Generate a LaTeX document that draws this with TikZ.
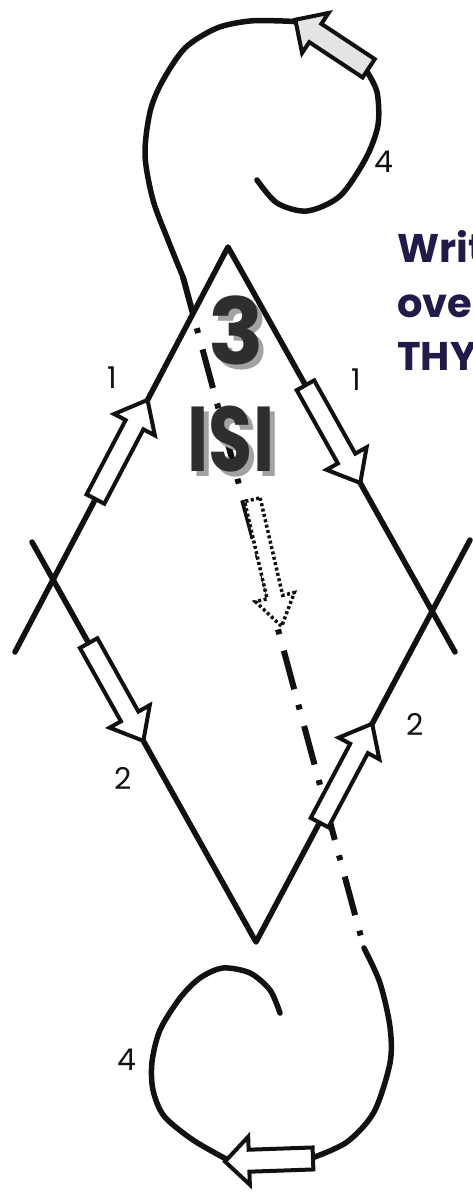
\documentclass[tikz,border=0pt]{standalone}
\usepackage{fontspec}
\newfontfamily\geo{Poppins}
\usetikzlibrary{calc}
\definecolor{inkblack}{HTML}{111111}
\definecolor{textnavy}{HTML}{221A48}
\definecolor{glyphgray}{HTML}{2E2E2E}
\definecolor{shadowgray}{HTML}{A2A2A2}
\definecolor{pale}{HTML}{E4E4E4}
\tikzset{
  sideline/.style={line width=5.5pt, color=inkblack, line cap=round, line join=round},
  axisline/.style={line width=6pt, color=inkblack, dash pattern=on 40pt off 16pt on 5pt off 17pt, dash phase=3pt},
  arrowbox/.style={line width=4pt, color=inkblack, fill=white, line join=miter},
  dotbox/.style={line width=3.5pt, color=inkblack, fill=white, dash pattern=on 3pt off 2.5pt},
  num/.style={font=\geo\fontsize{30}{30}\selectfont, text=inkblack, inner sep=0pt},
  note/.style={font=\geo\bfseries\fontsize{40}{40}\selectfont, text=textnavy, inner sep=0pt, anchor=base west},
  big/.style={font=\geo\bfseries\fontsize{92}{92}\selectfont, text=glyphgray, inner sep=0pt},
  bigshadow/.style={big, text=shadowgray},
  pics/sidearrow/.style={code={
    \draw[arrowbox] (-56,-10) -- (28,-10) -- (28,-23) -- (56,0) -- (28,23) -- (28,10) -- (-56,10) -- cycle;}},
  pics/looparrow/.style={code={
    \draw[arrowbox, #1] (-44,-11) -- (20,-11) -- (20,-24) -- (44,0) -- (20,24) -- (20,11) -- (-44,11) -- cycle;}},
  pics/dotarrow/.style={code={
    \draw[dotbox] (-65,-8) -- (35,-8) -- (35,-20) -- (65,0) -- (35,20) -- (35,8) -- (-65,8) -- cycle;}}
}

\begin{document}
\begin{tikzpicture}[x=1pt,y=-1pt]
\useasboundingbox (0,0) rectangle (472,1192);
\coordinate (T) at (228,247);
\coordinate (B) at (256,942);
\coordinate (TLend) at (15,652);
\coordinate (TRend) at (455,652);
\coordinate (BLend) at (32,542);
\coordinate (BRend) at (470,540);
\coordinate (topend) at (183,277);
\coordinate (botstart) at (364,948);

\draw[axisline] (topend) -- (botstart);
\draw[sideline] (TLend) -- (T) -- (TRend);
\draw[sideline] (BLend) -- (B) -- (BRend);

% loops
\draw[sideline] plot[smooth] coordinates {(183,277) (168,240) (153,200) (145,155) (150,112) (162,82) (185,48) (217,28) (250,21) (283,21) (300,22)};
\draw[sideline] plot[smooth] coordinates {(366,70) (377,92) (378,125) (366,158) (340,196) (307,211) (277,203) (257,180)};
\draw[sideline] plot[smooth] coordinates {(364,948) (380,983) (390,1027) (390,1063) (374,1112) (347,1142) (312,1158)};
\draw[sideline] plot[smooth] coordinates {(228,1160) (193,1140) (164,1116) (153,1090) (152,1062) (160,1030) (180,998) (200,978) (223,968) (250,973) (270,990) (280,1013)};

\pic[rotate=62.3] at ($(TLend)!0.5!(T)$) {sidearrow};
\pic[rotate=-60.7] at ($(T)!0.462!(TRend)$) {sidearrow};
\pic[rotate=-60.75] at ($(BLend)!0.375!(B)$) {sidearrow};
\pic[rotate=62] at ($(B)!0.42!(BRend)$) {sidearrow};
\pic[rotate=146.5] at (332,44) {looparrow={fill=pale}};
\pic[rotate=182] at (269,1160) {looparrow={fill=white}};
\pic[rotate=-77] at (267,563) {dotarrow};

\node[num] (lab1a) at (112,378) {1};
\node[num] (lab1b) at (356,380) {1};
\node[num] (lab2a) at (123,778) {2};
\node[num] (lab2b) at (415,724) {2};
\node[num] (lab4a) at (384,162) {4};
\node[num] (lab4b) at (127,1060) {4};

\node[bigshadow] (threeshade) at (241,335) {3};
\node[big] (three) at (236,330) {3};
\node[bigshadow, xscale=0.78] (isishade) at (236,444) {ISI};
\node[big, xscale=0.78] (isi) at (231,439) {ISI};

\begin{scope}
\clip (0,0) rectangle (472,1192);
\node[note] (line1) at (397,262) {Writ};
\node[note] (line2) at (397,317) {ove};
\node[note] (line3) at (397,370) {THY};
\end{scope}
\end{tikzpicture}
\end{document}
